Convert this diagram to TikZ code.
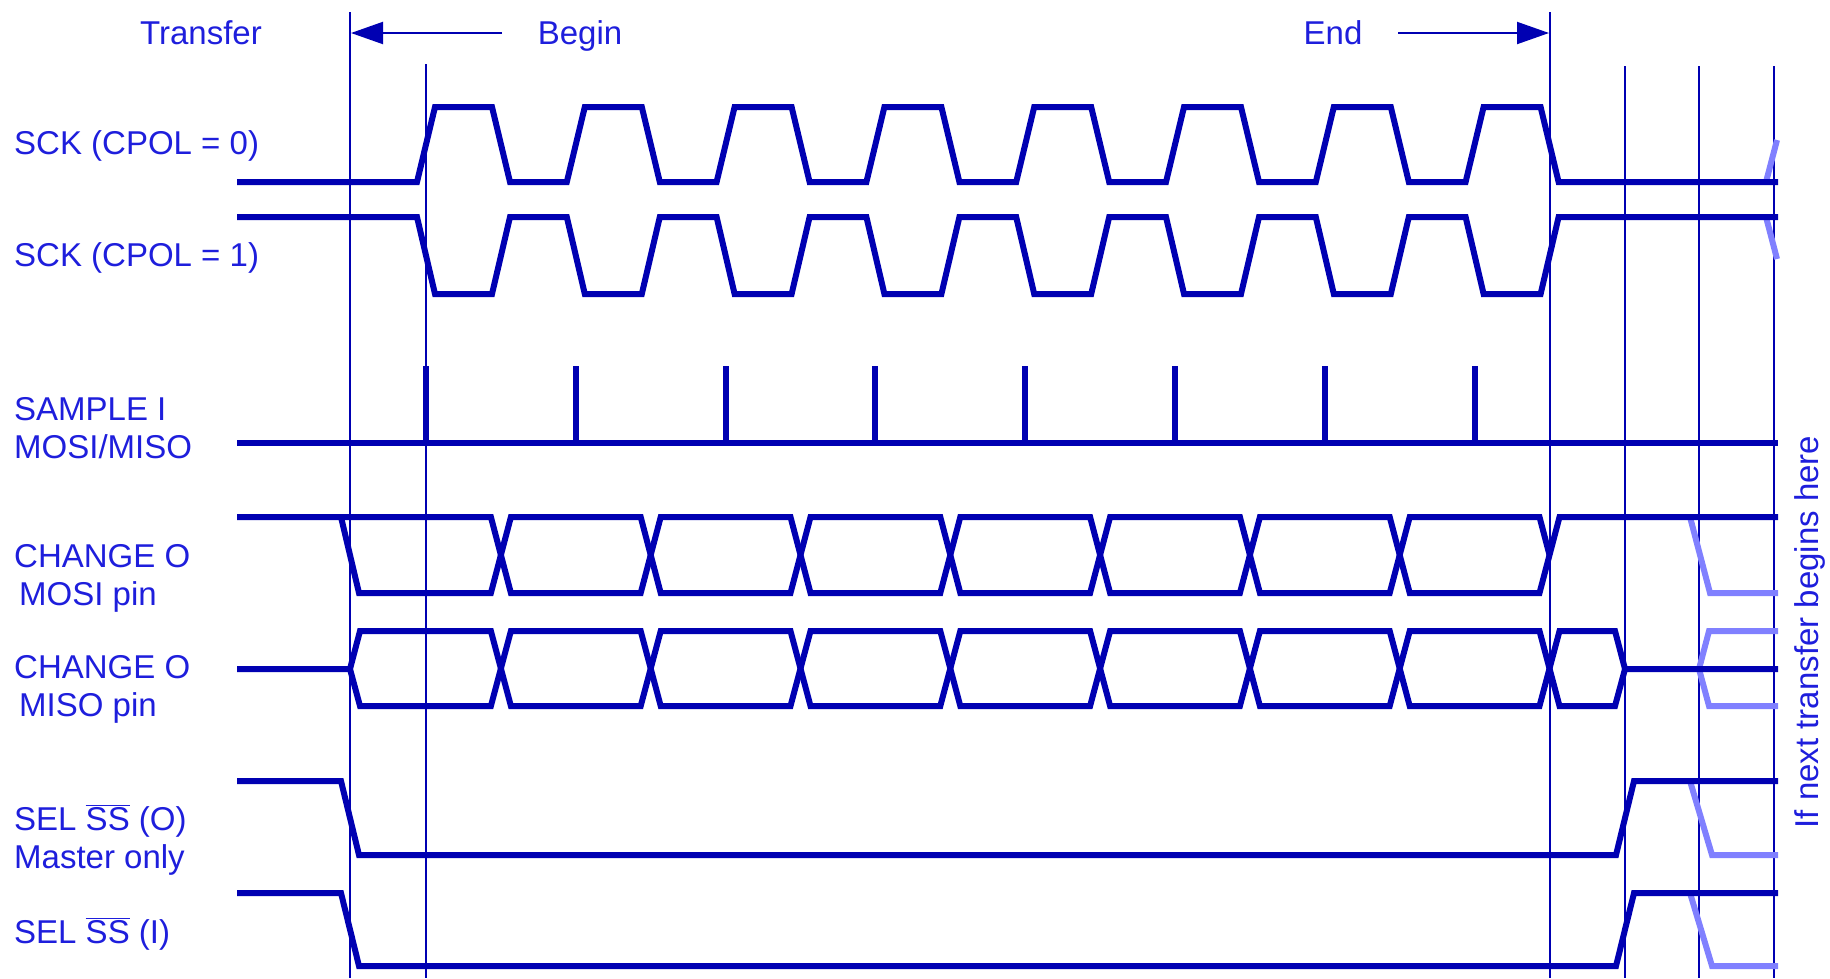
\documentclass[tikz,border=0pt]{standalone}
\usepackage{fontspec}
\setmainfont{Liberation Sans}
\usetikzlibrary{arrows.meta}
\definecolor{sigblue}{RGB}{0,0,178}
\definecolor{txtblue}{RGB}{30,30,220}
\definecolor{nextblue}{RGB}{128,128,255}

\begin{document}
\begin{tikzpicture}[x=1pt,y=-1pt,
    wave/.style={sigblue,line width=6pt},
    ghost/.style={nextblue,line width=6pt},
    tline/.style={sigblue,line width=2pt},
    lab/.style={txtblue,anchor=west,align=left,inner sep=0pt,
        font=\fontsize{33}{38}\selectfont},
    hdr/.style={txtblue,inner sep=0pt,font=\fontsize{33}{38}\selectfont},
    % every node/.style={draw}
]
    \useasboundingbox (0,0) rectangle (1830,978);

    \node[hdr] (transfer) at (201,33) {Transfer};
    \node[hdr] (begintx) at (580,36) {Begin};
    \node[hdr] (endtx) at (1333,33) {End};
    \node[hdr,rotate=90] (nexttx) at (1810,632) {If next transfer begins here};

    \node[lab] (sckzero) at (14,146) {SCK (CPOL = 0)};
    \node[lab] (sckone) at (14,258) {SCK (CPOL = 1)};
    \node[lab] (sample) at (14,428) {SAMPLE I\\MOSI/MISO};
    \node[lab] (mosi) at (14,578) {CHANGE O\\\hspace*{5pt}MOSI pin};
    \node[lab] (miso) at (14,689) {CHANGE O\\\hspace*{5pt}MISO pin};
    \node[lab] (sso) at (14,840) {SEL $\overline{\mbox{SS}}$ (O)\\Master only};
    \node[lab] (ssi) at (14,934) {SEL $\overline{\mbox{SS}}$ (I)};

    \coordinate (bgtail) at (502,33);
    \coordinate (bgtip) at (351,33);
    \coordinate (edtail) at (1398,33);
    \coordinate (edtip) at (1549,33);
    \draw[tline,-{Triangle[length=32pt,width=22pt]}] (bgtail) -- (bgtip);
    \draw[tline,-{Triangle[length=32pt,width=22pt]}] (edtail) -- (edtip);

    \foreach \x/\t in {350/12,426/64,1550/12,1625/66,1699/66,1774/66}
        \draw[tline] (\x,\t) -- (\x,978);

    % next transfer
    \draw[ghost] (1766,182) -- (1777,140);
    \draw[ghost] (1766,217) -- (1777,259);
    \draw[ghost] (1690,517) -- (1710,593) -- (1778,593);
    \draw[ghost] (1778,631) -- (1709,631) -- (1699,669) -- (1709,706) -- (1778,706);
    \draw[ghost] (1690,781) -- (1712,855) -- (1778,855);
    \draw[ghost] (1690,893) -- (1712,966) -- (1778,966);

    % clocks
    \draw[wave] (237,182) \foreach \k in {0,...,7} {
        -- ({417+149.8*\k},182) -- ({435+149.8*\k},107)
        -- ({492+149.8*\k},107) -- ({510+149.8*\k},182) } -- (1778,182);
    \draw[wave] (237,217) \foreach \k in {0,...,7} {
        -- ({417+149.8*\k},217) -- ({435+149.8*\k},294)
        -- ({492+149.8*\k},294) -- ({510+149.8*\k},217) } -- (1778,217);

    \draw[wave] (237,443) -- (1778,443);
    \foreach \j in {0,...,7}
        \draw[wave] ({426+149.8*\j},443) -- ({426+149.8*\j},366);

    % MOSI
    \draw[wave] (237,517) \foreach \j in {0,2,4,6} {
        -- ({490.9+149.8*\j},517) -- ({510.9+149.8*\j},593)
        -- ({640.7+149.8*\j},593) -- ({660.7+149.8*\j},517) } -- (1778,517);
    \draw[wave] (341,517) -- (359,593) \foreach \j in {0,2,4} {
        -- ({490.9+149.8*\j},593) -- ({510.9+149.8*\j},517)
        -- ({640.7+149.8*\j},517) -- ({660.7+149.8*\j},593) }
        -- (1389.7,593) -- (1409.7,517) -- (1539.5,517) -- (1549.5,555);

    % MISO
    \draw[wave] (237,669) -- (350,669) -- (360,631) \foreach \j in {0,2,4,6} {
        -- ({490.9+149.8*\j},631) -- ({510.9+149.8*\j},706)
        -- ({640.7+149.8*\j},706) -- ({660.7+149.8*\j},631) }
        -- (1615,631) -- (1625,669) -- (1778,669);
    \draw[wave] (350,669) -- (360,706) \foreach \j in {0,2,4,6} {
        -- ({490.9+149.8*\j},706) -- ({510.9+149.8*\j},631)
        -- ({640.7+149.8*\j},631) -- ({660.7+149.8*\j},706) }
        -- (1615,706) -- (1625,669);

    % slave select
    \draw[wave] (237,781) -- (341,781) -- (359,855) -- (1616,855) -- (1634,781) -- (1778,781);
    \draw[wave] (237,893) -- (341,893) -- (359,966) -- (1616,966) -- (1634,893) -- (1778,893);

\end{tikzpicture}
\end{document}
